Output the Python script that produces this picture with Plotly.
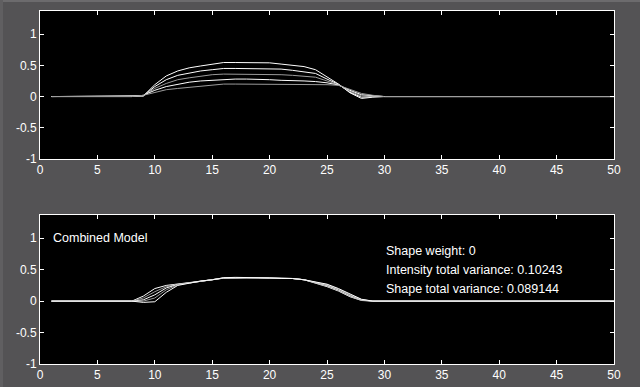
import plotly.graph_objects as go
from plotly.subplots import make_subplots

# ---- data ----
x_top = [1, 8, 9, 10, 11, 12, 13, 14, 15, 16, 17, 18, 19, 20, 21, 22, 23, 24, 25, 26, 27, 28, 29, 30, 50]
top_a = [0, 0, 0.01, 0.19, 0.33, 0.41, 0.46, 0.49, 0.52, 0.545, 0.545, 0.54, 0.54, 0.54, 0.52, 0.50, 0.48, 0.43, 0.31, 0.20, 0.06, -0.03, -0.01, 0, 0]
top_b = [0, 0, 0.01, 0.16, 0.27, 0.34, 0.38, 0.41, 0.43, 0.45, 0.45, 0.45, 0.45, 0.45, 0.44, 0.42, 0.40, 0.37, 0.28, 0.195, 0.07, -0.01, 0.0, 0, 0]
top_c = [0, 0, 0.015, 0.13, 0.21, 0.27, 0.30, 0.33, 0.35, 0.36, 0.36, 0.36, 0.36, 0.36, 0.35, 0.34, 0.33, 0.31, 0.25, 0.19, 0.085, 0.01, 0.005, 0, 0]
top_d = [0, 0, 0.02, 0.10, 0.16, 0.20, 0.23, 0.25, 0.26, 0.28, 0.28, 0.28, 0.28, 0.27, 0.26, 0.26, 0.25, 0.24, 0.22, 0.185, 0.10, 0.03, 0.01, 0, 0]
top_e = [0, 0, 0.02, 0.07, 0.11, 0.13, 0.15, 0.17, 0.18, 0.20, 0.20, 0.20, 0.20, 0.19, 0.19, 0.19, 0.19, 0.19, 0.19, 0.18, 0.11, 0.05, 0.02, 0, 0]

x_bot = [1, 8, 9, 10, 11, 12, 13, 14, 15, 16, 17, 18, 19, 20, 21, 22, 23, 24, 25, 26, 27, 28, 29, 50]
bot_1 = [0, 0, 0.08, 0.20, 0.25, 0.27, 0.29, 0.32, 0.34, 0.365, 0.37, 0.37, 0.37, 0.365, 0.36, 0.36, 0.34, 0.29, 0.23, 0.16, 0.07, 0.01, 0, 0]
bot_2 = [0, 0, 0.05, 0.15, 0.23, 0.27, 0.29, 0.32, 0.34, 0.366, 0.372, 0.372, 0.371, 0.366, 0.36, 0.36, 0.34, 0.295, 0.24, 0.17, 0.08, 0.015, 0, 0]
bot_3 = [0, 0, 0.02, 0.10, 0.21, 0.265, 0.29, 0.32, 0.34, 0.368, 0.374, 0.374, 0.372, 0.367, 0.36, 0.36, 0.34, 0.30, 0.25, 0.18, 0.09, 0.02, 0, 0]
bot_4 = [0, 0, 0.0, 0.05, 0.18, 0.26, 0.29, 0.32, 0.34, 0.37, 0.376, 0.376, 0.373, 0.368, 0.36, 0.36, 0.34, 0.305, 0.26, 0.19, 0.10, 0.025, 0, 0]
bot_5 = [0, 0, -0.02, -0.01, 0.14, 0.25, 0.285, 0.32, 0.34, 0.372, 0.378, 0.378, 0.374, 0.369, 0.36, 0.36, 0.34, 0.31, 0.27, 0.20, 0.11, 0.03, 0, 0]

x_ticks = [0, 5, 10, 15, 20, 25, 30, 35, 40, 45, 50]
y_ticks = [-1, -0.5, 0, 0.5, 1]
y_tick_labels = ["-1", "-0.5", "0", "0.5", "1"]

label_combined = "Combined Model"
info_texts = ["Shape weight: 0", "Intensity total variance: 0.10243", "Shape total variance: 0.089144"]
info_y = [0.8, 0.5, 0.2]

WHITE = "#ffffff"
GRAY = "#9a9a9a"
BG = "#545355"
FONT = "Liberation Sans, Arial, sans-serif"

fig = make_subplots(rows=2, cols=1, vertical_spacing=0.1586)

top_series = [(top_a, WHITE), (top_b, WHITE), (top_c, GRAY), (top_d, WHITE), (top_e, GRAY)]
for ys, col in top_series:
    fig.add_trace(go.Scatter(x=x_top, y=ys, mode="lines", line=dict(color=col, width=1),
                             showlegend=False, hoverinfo="skip"), row=1, col=1)

bot_series = [(bot_1, WHITE), (bot_2, GRAY), (bot_3, WHITE), (bot_4, GRAY), (bot_5, WHITE)]
for ys, col in bot_series:
    fig.add_trace(go.Scatter(x=x_bot, y=ys, mode="lines", line=dict(color=col, width=1),
                             showlegend=False, hoverinfo="skip"), row=2, col=1)

axis_common = dict(showline=True, linecolor=WHITE, linewidth=1, mirror="ticks",
                   ticks="inside", ticklen=4, tickcolor=WHITE, tickwidth=1,
                   showgrid=False, zeroline=False, automargin=False,
                   tickfont=dict(family=FONT, size=12, color=WHITE))

for r in (1, 2):
    fig.update_xaxes(range=[0, 50], tickmode="array", tickvals=x_ticks,
                     ticktext=[str(t) for t in x_ticks], **axis_common, row=r, col=1)
    fig.update_yaxes(range=[-1, 1.37], tickmode="array", tickvals=y_ticks,
                     ticktext=y_tick_labels, **axis_common, row=r, col=1)

fig.update_layout(yaxis=dict(domain=[0.5807, 1.0]), yaxis2=dict(domain=[0.0, 0.4221]))

fig.add_annotation(x=1, y=1, xref="x2", yref="y2", text=label_combined, showarrow=False,
                   xanchor="left", yanchor="middle", font=dict(family=FONT, size=12.5, color=WHITE))
for t, yv in zip(info_texts, info_y):
    fig.add_annotation(x=30, y=yv, xref="x2", yref="y2", text=t, showarrow=False,
                       xanchor="left", yanchor="middle", font=dict(family=FONT, size=12.5, color=WHITE))

# light window edge at top and left
PW, PH, ML, MB = 574.0, 353.0, 40.0, 23.0
fig.add_shape(type="rect", xref="paper", yref="paper", line=dict(width=0), fillcolor="#6c6b6d",
              x0=(0 - ML) / PW, x1=(640 - ML) / PW, y0=(387 - 2 - MB) / PH, y1=(387 - MB) / PH, layer="below")
fig.add_shape(type="rect", xref="paper", yref="paper", line=dict(width=0), fillcolor="#605f61",
              x0=(0 - ML) / PW, x1=(3 - ML) / PW, y0=(0 - MB) / PH, y1=(387 - MB) / PH, layer="below")

fig.update_layout(
    width=640, height=387,
    margin=dict(l=40, r=26, t=11, b=23),
    paper_bgcolor=BG, plot_bgcolor="#000000",
    showlegend=False,
)

fig.write_html("out.html",
               config={"displayModeBar": False},
               post_script="document.body.style.margin='0';document.body.style.padding='0';"
                           "document.body.style.overflow='hidden';")
